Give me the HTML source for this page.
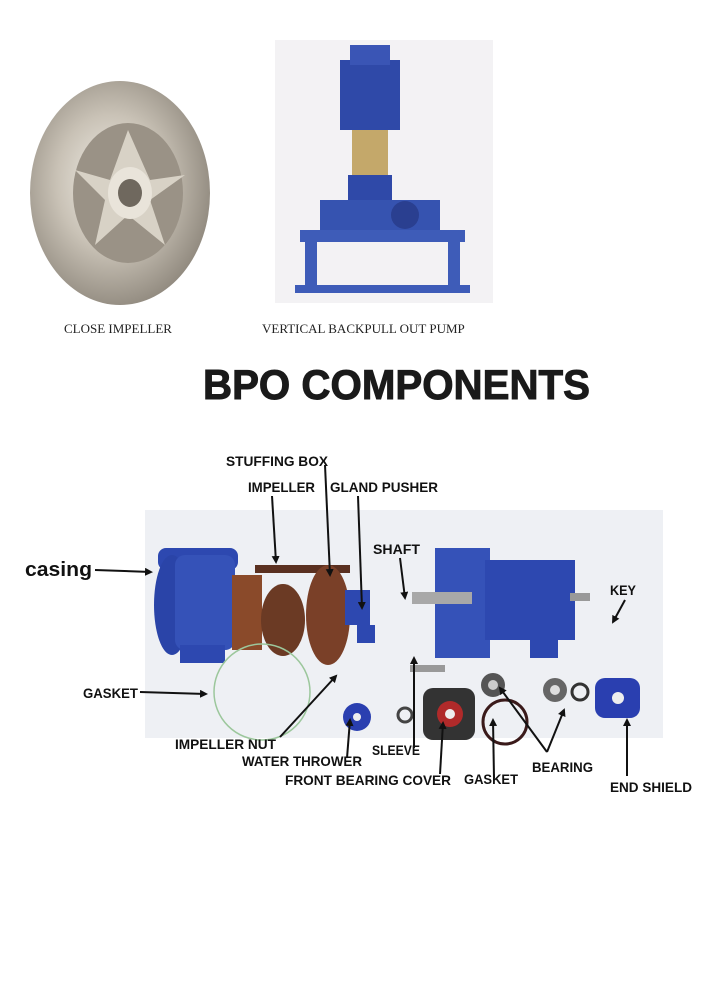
<!DOCTYPE html>
<html><head><style>
body{margin:0;background:#fff;width:706px;height:1000px;overflow:hidden}
svg{display:block}
.l{font-family:"Liberation Sans",sans-serif;font-weight:bold;font-size:14px;fill:#111}
</style></head><body>
<svg width="706" height="1000" viewBox="0 0 706 1000" xmlns="http://www.w3.org/2000/svg">
<defs>
<marker id="a" markerWidth="8" markerHeight="8" refX="6" refY="4" orient="auto" markerUnits="userSpaceOnUse"><path d="M0,0 L8,4 L0,8 z" fill="#111"/></marker>
<radialGradient id="imp" cx="0.45" cy="0.45" r="0.6"><stop offset="0" stop-color="#f2efe8"/><stop offset="0.5" stop-color="#c9c2b6"/><stop offset="1" stop-color="#8c857a"/></radialGradient>
</defs>
<ellipse cx="120" cy="193" rx="90" ry="112" fill="url(#imp)"/>
<ellipse cx="128" cy="193" rx="55" ry="70" fill="#9a9286"/>
<path d="M128,130 L150,180 L185,175 L150,200 L165,245 L128,215 L95,245 L105,200 L75,170 L110,180z" fill="#d8d2c6"/>
<ellipse cx="130" cy="193" rx="22" ry="26" fill="#e9e4da"/>
<ellipse cx="130" cy="193" rx="12" ry="14" fill="#6f685e"/>
<rect x="275" y="40" width="218" height="263" fill="#f3f2f4"/>
<rect x="340" y="60" width="60" height="70" fill="#2f49a8"/>
<rect x="350" y="45" width="40" height="20" fill="#3a55b5"/>
<rect x="352" y="130" width="36" height="45" fill="#c4a86a"/>
<rect x="348" y="175" width="44" height="35" fill="#2f49a8"/>
<rect x="320" y="200" width="120" height="30" fill="#3653b0"/>
<rect x="300" y="230" width="165" height="12" fill="#3e5cb8"/>
<rect x="305" y="240" width="12" height="50" fill="#3e5cb8"/>
<rect x="448" y="240" width="12" height="50" fill="#3e5cb8"/>
<rect x="295" y="285" width="175" height="8" fill="#3e5cb8"/>
<circle cx="405" cy="215" r="14" fill="#2a3f90"/>
<text x="64" y="333" font-family="Liberation Serif,serif" font-size="13" fill="#222">CLOSE IMPELLER</text>
<text x="262" y="333" font-family="Liberation Serif,serif" font-size="13" fill="#222">VERTICAL BACKPULL OUT PUMP</text>
<text x="203" y="399" font-family="Liberation Sans,sans-serif" font-weight="bold" font-size="42" fill="#1a1a1a" stroke="#1a1a1a" stroke-width="1" textLength="387" lengthAdjust="spacingAndGlyphs">BPO COMPONENTS</text>
<rect x="145" y="510" width="518" height="228" fill="#eef0f4"/>
<rect x="158" y="548" width="80" height="22" rx="8" fill="#2d48b0"/>
<ellipse cx="172" cy="605" rx="18" ry="50" fill="#2a44a8"/>
<rect x="175" y="555" width="60" height="95" rx="10" fill="#3552b8"/>
<rect x="180" y="645" width="45" height="18" fill="#2d48b0"/>
<rect x="232" y="575" width="30" height="75" fill="#8a4a2a"/>
<ellipse cx="283" cy="620" rx="22" ry="36" fill="#6b3a24"/>
<rect x="255" y="565" width="95" height="8" fill="#5a3020"/>
<ellipse cx="328" cy="615" rx="22" ry="50" fill="#7a4028"/>
<rect x="345" y="590" width="25" height="35" fill="#2d48b0"/>
<rect x="357" y="625" width="18" height="18" fill="#2d48b0"/>
<rect x="435" y="548" width="55" height="110" fill="#3552b8"/>
<rect x="485" y="560" width="90" height="80" fill="#2d48b0"/>
<rect x="530" y="640" width="28" height="18" fill="#2d48b0"/>
<rect x="410" y="665" width="35" height="7" fill="#999"/>
<rect x="412" y="592" width="60" height="12" fill="#a8a8a8"/>
<rect x="570" y="593" width="20" height="8" fill="#999"/>
<ellipse cx="262" cy="692" rx="48" ry="48" fill="none" stroke="#9cc79c" stroke-width="1.5"/>
<circle cx="357" cy="717" r="14" fill="#2a3fb0"/><circle cx="357" cy="717" r="4" fill="#eee"/>
<circle cx="405" cy="715" r="7" fill="none" stroke="#444" stroke-width="3"/>
<rect x="423" y="688" width="52" height="52" rx="10" fill="#333"/><circle cx="450" cy="714" r="13" fill="#b02a2a"/><circle cx="450" cy="714" r="5" fill="#eee"/>
<circle cx="493" cy="685" r="12" fill="#555"/><circle cx="493" cy="685" r="5" fill="#ccc"/>
<ellipse cx="505" cy="722" rx="22" ry="22" fill="none" stroke="#3a1a1a" stroke-width="3"/>
<circle cx="555" cy="690" r="12" fill="#666"/><circle cx="555" cy="690" r="5" fill="#ddd"/>
<circle cx="580" cy="692" r="8" fill="none" stroke="#333" stroke-width="3"/>
<rect x="595" y="678" width="45" height="40" rx="10" fill="#2a3fb0"/><circle cx="618" cy="698" r="6" fill="#eee"/>
<g class="l">
<text x="226" y="466" textLength="102" lengthAdjust="spacingAndGlyphs">STUFFING BOX</text>
<text x="248" y="492" textLength="67" lengthAdjust="spacingAndGlyphs">IMPELLER</text>
<text x="330" y="492" textLength="108" lengthAdjust="spacingAndGlyphs">GLAND PUSHER</text>
<text x="25" y="576" font-size="20" textLength="67" lengthAdjust="spacingAndGlyphs">casing</text>
<text x="373" y="554" textLength="47" lengthAdjust="spacingAndGlyphs">SHAFT</text>
<text x="610" y="595" textLength="26" lengthAdjust="spacingAndGlyphs">KEY</text>
<text x="83" y="698" textLength="55" lengthAdjust="spacingAndGlyphs">GASKET</text>
<text x="175" y="749" textLength="101" lengthAdjust="spacingAndGlyphs">IMPELLER NUT</text>
<text x="242" y="766" textLength="120" lengthAdjust="spacingAndGlyphs">WATER THROWER</text>
<text x="372" y="755" textLength="48" lengthAdjust="spacingAndGlyphs">SLEEVE</text>
<text x="285" y="785" textLength="166" lengthAdjust="spacingAndGlyphs">FRONT  BEARING COVER</text>
<text x="464" y="784" textLength="54" lengthAdjust="spacingAndGlyphs">GASKET</text>
<text x="532" y="772" textLength="61" lengthAdjust="spacingAndGlyphs">BEARING</text>
<text x="610" y="792" textLength="82" lengthAdjust="spacingAndGlyphs">END SHIELD</text>
</g>
<g stroke="#111" stroke-width="2" fill="none" marker-end="url(#a)">
<line x1="325" y1="465" x2="330" y2="575"/>
<line x1="272" y1="496" x2="276" y2="562"/>
<line x1="358" y1="496" x2="362" y2="608"/>
<line x1="95" y1="570" x2="151" y2="572"/>
<line x1="400" y1="558" x2="405" y2="598"/>
<line x1="625" y1="600" x2="613" y2="622"/>
<line x1="140" y1="692" x2="206" y2="694"/>
<line x1="280" y1="737" x2="336" y2="676"/>
<line x1="347" y1="758" x2="350" y2="720"/>
<line x1="414" y1="748" x2="414" y2="658"/>
<line x1="440" y1="774" x2="443" y2="723"/>
<line x1="494" y1="778" x2="493" y2="720"/>
<line x1="547" y1="752" x2="500" y2="688"/>
<line x1="547" y1="752" x2="564" y2="710"/>
<line x1="627" y1="776" x2="627" y2="720"/>
</g>
</svg>
</body></html>
